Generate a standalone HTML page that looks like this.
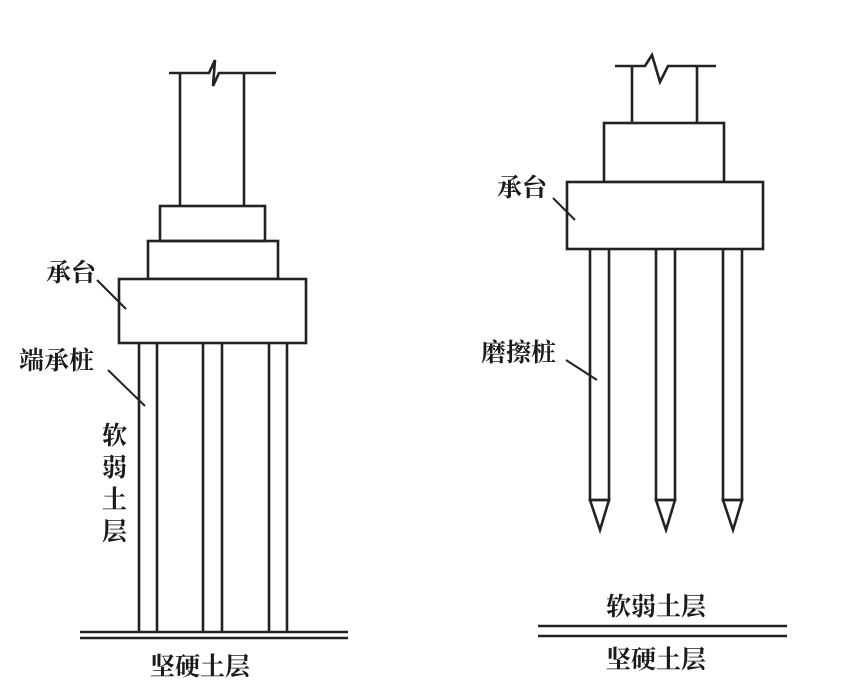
<!DOCTYPE html>
<html><head><meta charset="utf-8"><style>
body{margin:0;background:#fff;}
svg text{font-family:"Liberation Serif","Noto Serif CJK SC",serif;fill:#1a1a1a;font-size:25px;font-weight:bold;}
</style></head><body>
<svg width="860" height="692" viewBox="0 0 860 692" xmlns="http://www.w3.org/2000/svg">
<g stroke="#222" stroke-width="2.6" fill="none">
<!-- Left -->
<polyline points="169,73 209,73 215,60 213,86 219,73 276,73"/>
<line x1="180" y1="73" x2="180" y2="206"/>
<line x1="244" y1="73" x2="244" y2="206"/>
<rect x="160" y="206" width="105" height="35"/>
<rect x="148" y="241" width="130" height="38"/>
<rect x="119" y="279" width="187" height="64" fill="#fff"/>
<line x1="139" y1="343" x2="139" y2="632"/><line x1="157" y1="343" x2="157" y2="632"/>
<line x1="203" y1="343" x2="203" y2="632"/><line x1="222" y1="343" x2="222" y2="632"/>
<line x1="269" y1="343" x2="269" y2="632"/><line x1="287" y1="343" x2="287" y2="632"/>
<line x1="80" y1="632" x2="348" y2="632"/><line x1="80" y1="638" x2="348" y2="638"/>
<line x1="97" y1="280" x2="126" y2="309" stroke-width="2"/>
<line x1="108" y1="370" x2="145" y2="406" stroke-width="2"/>
<!-- Right -->
<polyline points="615,66 645,66 652,55 660,82 668,66 716,66"/>
<line x1="632" y1="66" x2="632" y2="123"/>
<line x1="697" y1="66" x2="697" y2="123"/>
<rect x="604" y="123" width="120" height="59"/>
<rect x="567" y="182" width="196" height="67" fill="#fff"/>
<g>
<polyline points="590,249 590,500 609,500 609,249"/><polygon points="590,500 609,500 600,530"/>
<polyline points="656,249 656,500 675,500 675,249"/><polygon points="656,500 675,500 666,530"/>
<polyline points="723,249 723,500 742,500 742,249"/><polygon points="723,500 742,500 733,530"/>
</g>
<line x1="538" y1="626" x2="787" y2="626"/><line x1="538" y1="636" x2="787" y2="636"/>
<line x1="553" y1="198" x2="575" y2="220" stroke-width="2"/>
<line x1="566" y1="360" x2="597" y2="380" stroke-width="2"/>
</g>
<text x="46" y="281">承台</text>
<text x="19" y="369" font-size="26">端承桩</text>
<text x="102" y="444" font-size="26">软</text>
<text x="102" y="476" font-size="26">弱</text>
<text x="102" y="508" font-size="26">土</text>
<text x="102" y="540" font-size="26">层</text>
<text x="150" y="675" font-size="27">坚硬土层</text>
<text x="497" y="196">承台</text>
<text x="481" y="361" font-size="26">磨擦桩</text>
<text x="606" y="615" font-size="27">软弱土层</text>
<text x="606" y="668" font-size="27">坚硬土层</text>
</svg>
</body></html>
